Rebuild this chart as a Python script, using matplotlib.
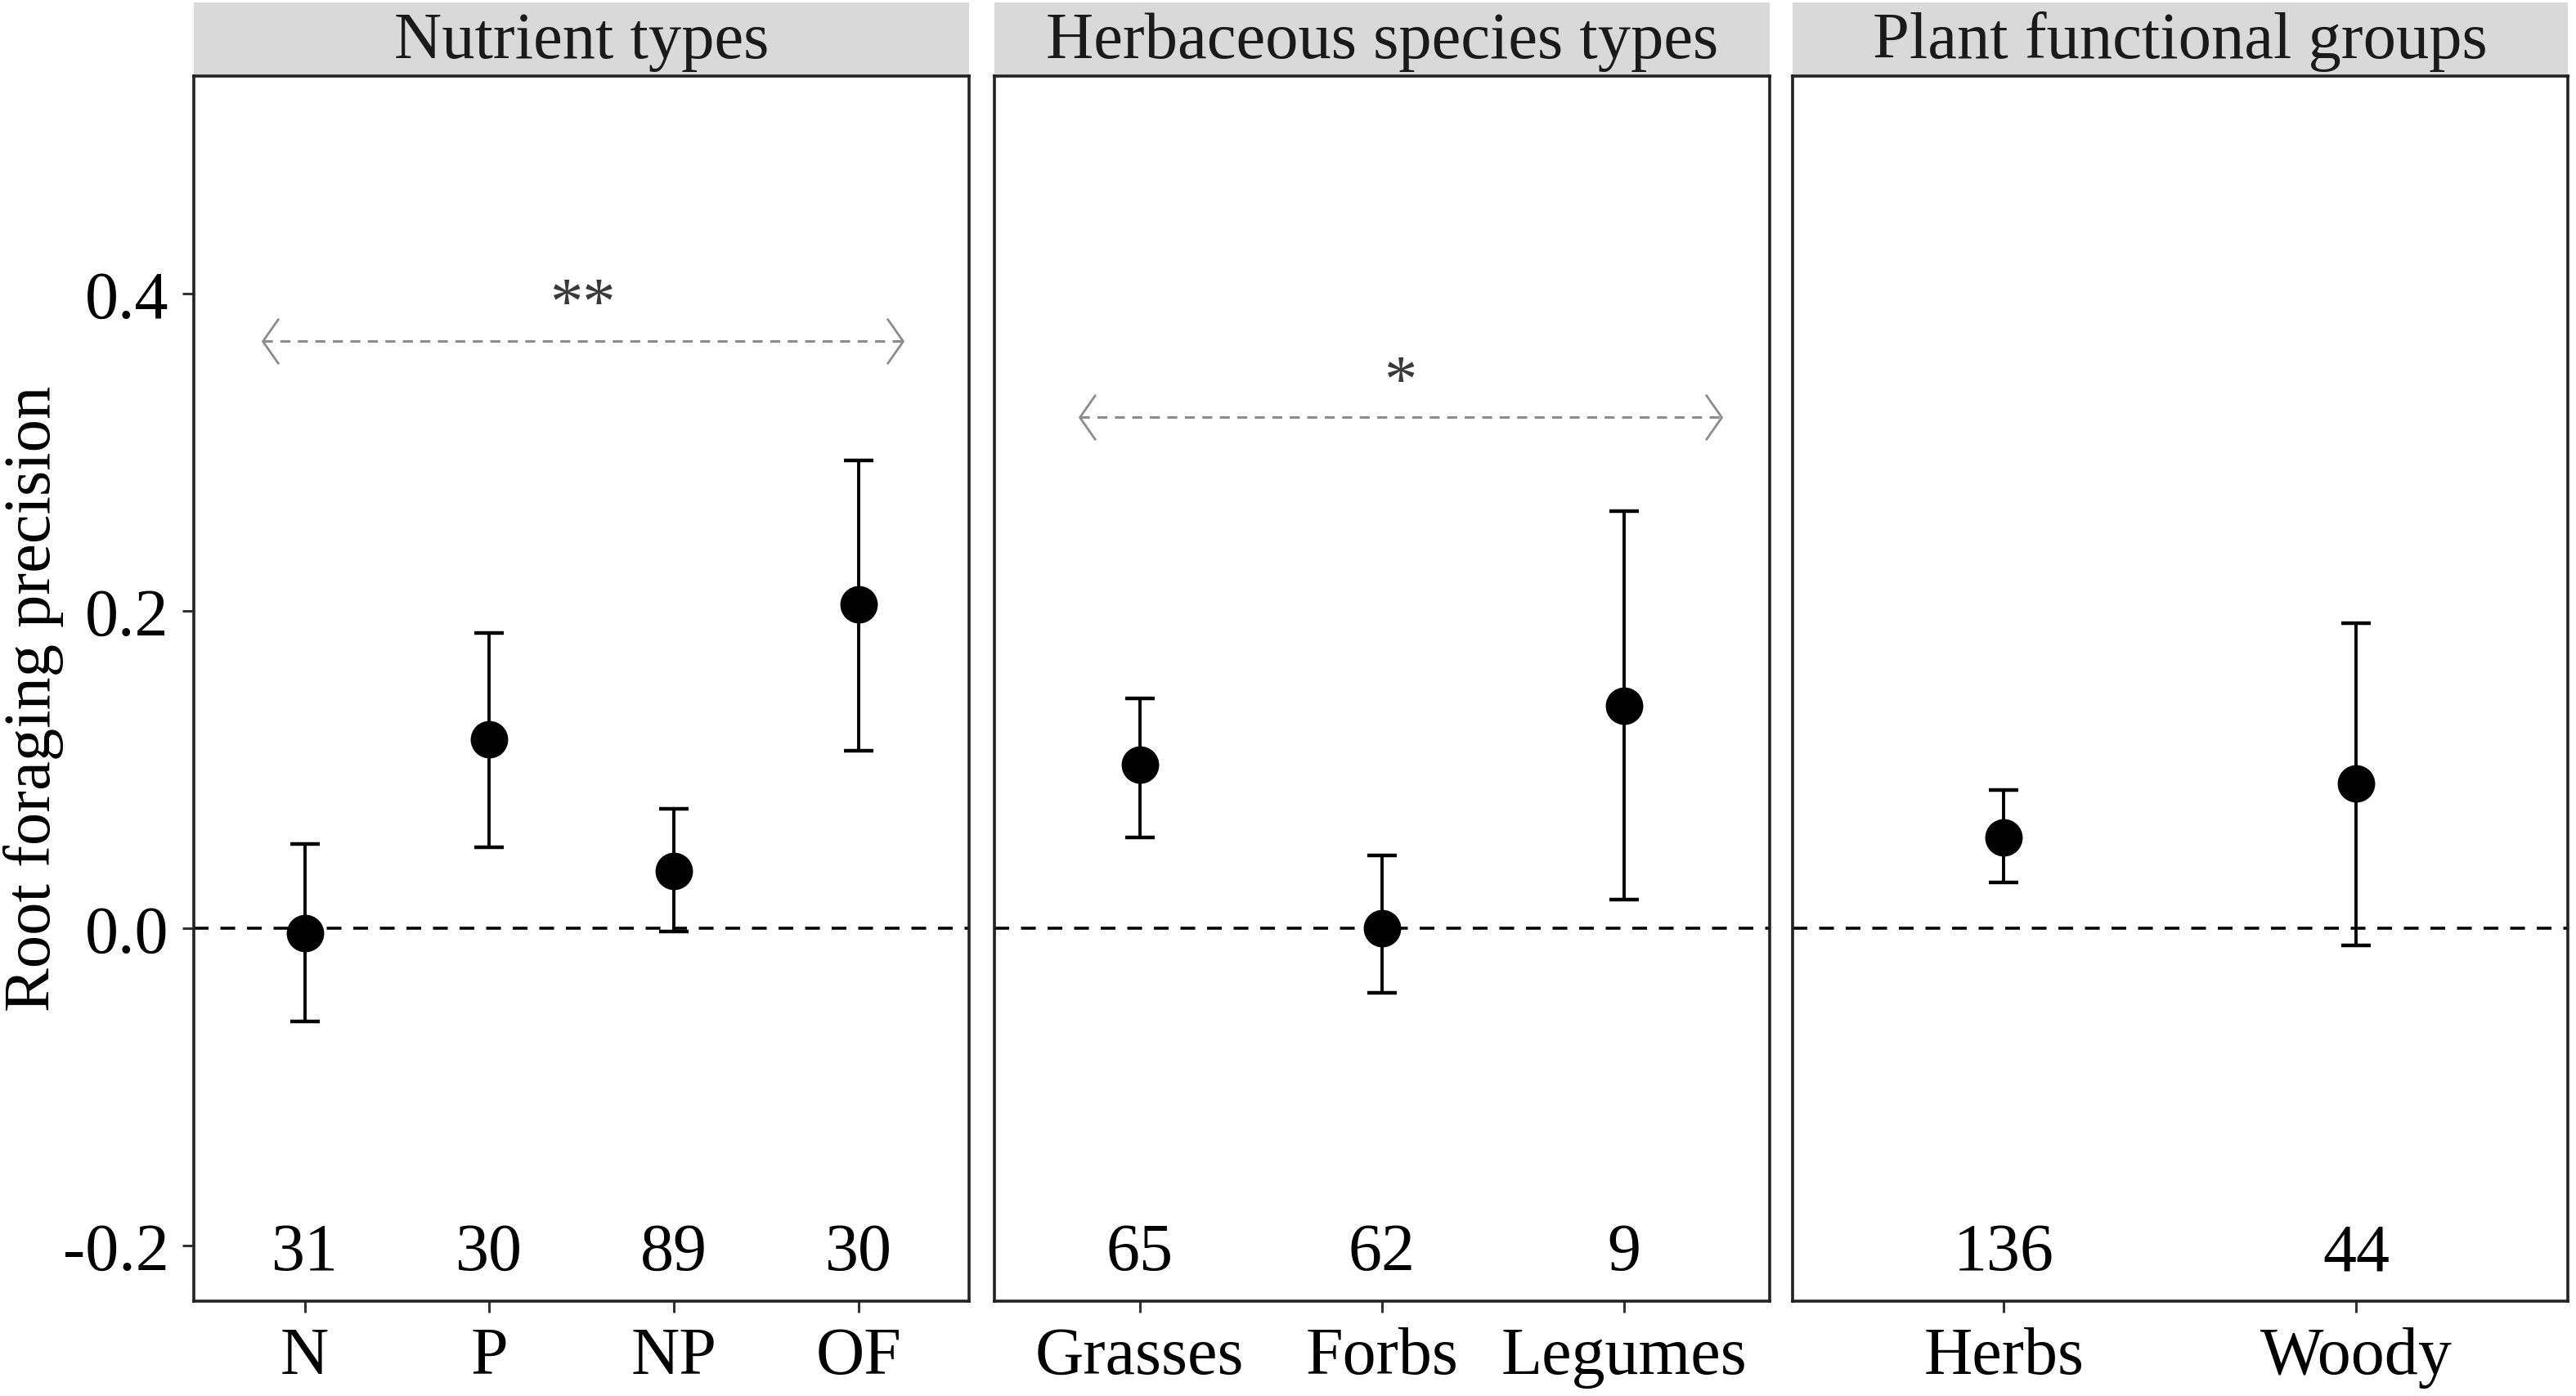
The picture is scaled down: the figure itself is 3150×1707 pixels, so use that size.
import matplotlib
matplotlib.use('Agg')
import matplotlib.pyplot as plt
from matplotlib.path import Path
from matplotlib.patches import Rectangle

plt.rcParams['font.family'] = ['Liberation Serif', 'DejaVu Serif']

# data
titles = ['Nutrient types', 'Herbaceous species types', 'Plant functional groups']

nut_cats = ['N', 'P', 'NP', 'OF']
nut_mean = [-0.003, 0.119, 0.036, 0.204]
nut_lo = [-0.059, 0.051, -0.002, 0.112]
nut_hi = [0.053, 0.186, 0.075, 0.295]
nut_n = [31, 30, 89, 30]

herb_cats = ['Grasses', 'Forbs', 'Legumes']
herb_mean = [0.103, 0.0, 0.140]
herb_lo = [0.057, -0.041, 0.018]
herb_hi = [0.145, 0.046, 0.263]
herb_n = [65, 62, 9]

pfg_cats = ['Herbs', 'Woody']
pfg_mean = [0.057, 0.091]
pfg_lo = [0.029, -0.011]
pfg_hi = [0.087, 0.192]
pfg_n = [136, 44]

# significance brackets: (x start, x end, y, label y, label)
sig = {0: (0.77, 4.24, 0.370, 0.392, '**'),
       1: (0.75, 3.40, 0.322, 0.343, '*')}

panels = [(nut_cats, nut_mean, nut_lo, nut_hi, nut_n),
          (herb_cats, herb_mean, herb_lo, herb_hi, herb_n),
          (pfg_cats, pfg_mean, pfg_lo, pfg_hi, pfg_n)]

fig = plt.figure(figsize=(15.75, 8.54), dpi=200)
lefts = [0.0753, 0.3860, 0.6958]
width = 0.3010
bottom, height = 0.0682, 0.8765

left_head = Path([(0.7, 1), (0, 0), (0.7, -1)], [Path.MOVETO, Path.LINETO, Path.LINETO])
right_head = Path([(-0.7, 1), (0, 0), (-0.7, -1)], [Path.MOVETO, Path.LINETO, Path.LINETO])

for i, (cats, mean, lo, hi, n) in enumerate(panels):
    ax = fig.add_axes([lefts[i], bottom, width, height])
    x = list(range(1, len(cats) + 1))
    yerr = [[m - l for m, l in zip(mean, lo)], [h - m for m, h in zip(mean, hi)]]
    ax.axhline(0, color='black', linestyle=(0, (5, 4)), linewidth=1.3, zorder=1)
    ax.errorbar(x, mean, yerr=yerr, fmt='o', color='black', ecolor='black',
                markersize=15.5, elinewidth=1.4, capsize=6.5, capthick=1.6, zorder=3)
    for xi, ni in zip(x, n):
        ax.text(xi, -0.205, str(ni), ha='center', va='center', fontsize=29.5)
    if i in sig:
        x0, x1, y, ys, lab = sig[i]
        ax.plot([x0, x1], [y, y], color='#8c8c8c', linestyle=(0, (4, 3)), linewidth=1.1)
        ax.plot([x0], [y], marker=left_head, markersize=20, color='#8c8c8c',
                markeredgewidth=1.0, fillstyle='none')
        ax.plot([x1], [y], marker=right_head, markersize=20, color='#8c8c8c',
                markeredgewidth=1.0, fillstyle='none')
        ax.text((x0 + x1) / 2, ys, lab, ha='center', va='center', fontsize=29, color='#3a3a3a')
    ax.set_xlim(0.4, len(cats) + 0.6)
    ax.set_ylim(-0.235, 0.537)
    ax.set_xticks(x)
    ax.set_xticklabels(cats, fontsize=29.5)
    ax.set_yticks([-0.2, 0.0, 0.2, 0.4])
    if i == 0:
        ax.set_yticklabels(['-0.2', '0.0', '0.2', '0.4'], fontsize=29.5)
    else:
        ax.tick_params(axis='y', left=False, labelleft=False)
    ax.tick_params(direction='out', length=5, width=1.1, pad=6, color='#333333')
    for s in ax.spines.values():
        s.set_linewidth(1.3)
        s.set_color('#222222')
    strip = Rectangle((0, 1.0), 1, 0.0604, transform=ax.transAxes, facecolor='#d9d9d9',
                      edgecolor='none', clip_on=False)
    ax.add_patch(strip)
    ax.text(0.5, 1.029, titles[i], transform=ax.transAxes, ha='center', va='center',
            fontsize=29, color='#1a1a1a')

fig.text(0.013, 0.5, 'Root foraging precision', rotation=90, ha='center', va='center',
         fontsize=29)

fig.savefig('out.png', dpi=200, facecolor='white')
